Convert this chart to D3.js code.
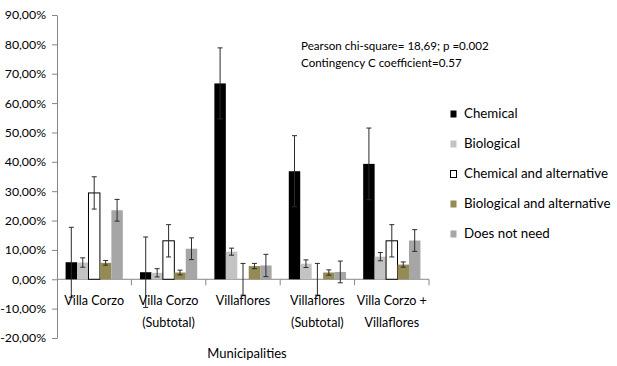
<!DOCTYPE html>
<html>
<head>
<meta charset="utf-8">
<style>
  body { margin: 0; background: #fff; }
  text { font-family: Lato, "Noto Sans", sans-serif; fill: #000; }
</style>
</head>
<body>
<div id="chart"></div>
<script src="https://d3js.org/d3.v7.min.js"></script>
<script>
// categories (x axis), each label may be split in two lines
var categories = ["Villa Corzo", "Villa Corzo (Subtotal)", "Villaflores", "Villaflores (Subtotal)", "Villa Corzo + Villaflores"];
var categoryLines = [["Villa Corzo"], ["Villa Corzo", "(Subtotal)"], ["Villaflores"], ["Villaflores", "(Subtotal)"], ["Villa Corzo +", "Villaflores"]];

var series = ["Chemical", "Biological", "Chemical and alternative", "Biological and alternative", "Does not need"];

// percentages per series, in the order of categories
var chemical       = [5.8, 2.4, 66.7, 36.8, 39.3];
var biological     = [5.7, 2.2, 9.4, 5.3, 7.7];
var chemAlt        = [29.4, 13.1, 0, 0, 13.1];
var bioAlt         = [5.6, 2.3, 4.5, 2.3, 5.0];
var doesNotNeed    = [23.5, 10.4, 4.7, 2.5, 13.2];

// error (+/-) per series
var chemicalErr    = [11.9, 12.0, 12.1, 12.1, 12.2];
var biologicalErr  = [1.6, 1.4, 1.2, 1.3, 1.4];
var chemAltErr     = [5.5, 5.5, 5.4, 5.4, 5.5];
var bioAltErr      = [0.8, 0.8, 0.9, 0.9, 0.9];
var doesNotNeedErr = [3.7, 3.7, 3.8, 3.7, 3.7];

var yTicks = [-0.2, -0.1, 0, 0.1, 0.2, 0.3, 0.4, 0.5, 0.6, 0.7, 0.8, 0.9];

var annotation = ["Pearson chi-square= 18,69; p =0.002", "Contingency C coefficient=0.57"];
var xTitle = "Municipalities";

var values = [chemical, biological, chemAlt, bioAlt, doesNotNeed];
var errors = [chemicalErr, biologicalErr, chemAltErr, bioAltErr, doesNotNeedErr];
var fills = ["#000000", "#c3c3c3", "#ffffff", "#948a54", "#a6a6a6"];
var strokes = ["none", "none", "#000000", "none", "none"];

var width = 617, height = 366;
var plot = {left: 57, right: 429, top: 15, bottom: 338};

var svg = d3.select("#chart").append("svg")
    .attr("width", width)
    .attr("height", height);

// scales
var x0 = d3.scaleBand()
    .domain(categories)
    .range([plot.left, plot.right])
    .paddingInner(0).paddingOuter(0);

var x1 = d3.scaleBand()
    .domain(series)
    .range([0, x0.bandwidth()])
    .paddingInner(0).paddingOuter(0.75);

var y = d3.scaleLinear()
    .domain([-0.2, 0.9])
    .range([plot.bottom, plot.top]);

var pct = d3.formatLocale({decimal: ",", thousands: ".", grouping: [3], currency: ["", ""], minus: "-"}).format(".2%");

// Y axis
var yAxis = svg.append("g")
    .attr("transform", "translate(" + plot.left + ",0)")
    .call(d3.axisLeft(y).tickValues(yTicks).tickSize(5).tickSizeOuter(0).tickFormat(pct).tickPadding(6));
yAxis.select(".domain").attr("stroke", "#868686");
yAxis.selectAll(".tick line").attr("stroke", "#868686");
yAxis.selectAll(".tick text")
    .attr("font-family", "Lato, 'Noto Sans', sans-serif")
    .attr("font-size", 12.3)
    .attr("fill", "#000");

// X baseline at 0 with category boundary ticks
svg.append("line")
    .attr("x1", plot.left).attr("x2", plot.right)
    .attr("y1", y(0)).attr("y2", y(0))
    .attr("stroke", "#868686");
svg.selectAll(".xtick")
    .data(categories)
    .enter().append("line")
    .attr("class", "xtick")
    .attr("x1", function(d) { return x0(d) + x0.bandwidth(); })
    .attr("x2", function(d) { return x0(d) + x0.bandwidth(); })
    .attr("y1", y(0)).attr("y2", y(0) + 6)
    .attr("stroke", "#868686");

// bars
var rows = [];
categories.forEach(function(c, i) {
  series.forEach(function(s, j) {
    rows.push({cat: c, ser: s, j: j, v: values[j][i] / 100, e: errors[j][i] / 100});
  });
});

svg.selectAll(".bar")
  .data(rows)
  .enter().append("rect")
    .attr("class", "bar")
    .attr("x", function(d) { return x0(d.cat) + x1(d.ser); })
    .attr("y", function(d) { return y(d.v); })
    .attr("width", x1.bandwidth())
    .attr("height", function(d) { return y(0) - y(d.v); })
    .attr("fill", function(d) { return fills[d.j]; })
    .attr("stroke", function(d) { return strokes[d.j]; })
    .attr("stroke-width", 1);

// error bars
var eb = svg.selectAll(".err")
  .data(rows)
  .enter().append("g")
    .attr("class", "err")
    .attr("stroke", "#2b2b2b")
    .attr("stroke-width", 1);
eb.append("line")
    .attr("x1", function(d) { return x0(d.cat) + x1(d.ser) + x1.bandwidth() / 2; })
    .attr("x2", function(d) { return x0(d.cat) + x1(d.ser) + x1.bandwidth() / 2; })
    .attr("y1", function(d) { return y(d.v + d.e); })
    .attr("y2", function(d) { return y(d.v - d.e); });
eb.selectAll(".cap")
  .data(function(d) { return [d.v + d.e, d.v - d.e].map(function(t) { return {d: d, t: t}; }); })
  .enter().append("line")
    .attr("x1", function(c) { return x0(c.d.cat) + x1(c.d.ser) + x1.bandwidth() / 2 - 2.5; })
    .attr("x2", function(c) { return x0(c.d.cat) + x1(c.d.ser) + x1.bandwidth() / 2 + 2.5; })
    .attr("y1", function(c) { return y(c.t); })
    .attr("y2", function(c) { return y(c.t); });

// category labels
var catLabels = svg.selectAll(".cat")
  .data(categories)
  .enter().append("text")
    .attr("class", "cat")
    .attr("text-anchor", "middle")
    .attr("font-size", 12.6)
    .attr("x", function(d) { return x0(d) + x0.bandwidth() / 2; })
    .attr("y", 305);
catLabels.selectAll("tspan")
  .data(function(d, i) { return categoryLines[i]; })
  .enter().append("tspan")
    .attr("x", function() { return d3.select(this.parentNode).attr("x"); })
    .attr("dy", function(d, i) { return i === 0 ? 0 : 22; })
    .text(function(d) { return d; });

// x title
svg.append("text")
    .attr("x", 247).attr("y", 358)
    .attr("text-anchor", "middle")
    .attr("font-size", 13)
    .text(xTitle);

// annotation
svg.selectAll(".note")
  .data(annotation)
  .enter().append("text")
    .attr("class", "note")
    .attr("x", 301)
    .attr("y", function(d, i) { return 50 + i * 17; })
    .attr("font-size", 11.6)
    .text(function(d) { return d; });

// legend
var legend = svg.selectAll(".legend")
  .data(series)
  .enter().append("g")
    .attr("class", "legend")
    .attr("transform", function(d, i) { return "translate(0," + (118 + i * 30) + ")"; });
legend.append("rect")
    .attr("x", 450.5).attr("y", -7.5)
    .attr("width", 6).attr("height", 7)
    .attr("fill", function(d, i) { return fills[i]; })
    .attr("stroke", function(d, i) { return strokes[i]; });
legend.append("text")
    .attr("x", 464).attr("y", 0)
    .attr("font-size", 13.3)
    .text(function(d) { return d; });
</script>
</body>
</html>
